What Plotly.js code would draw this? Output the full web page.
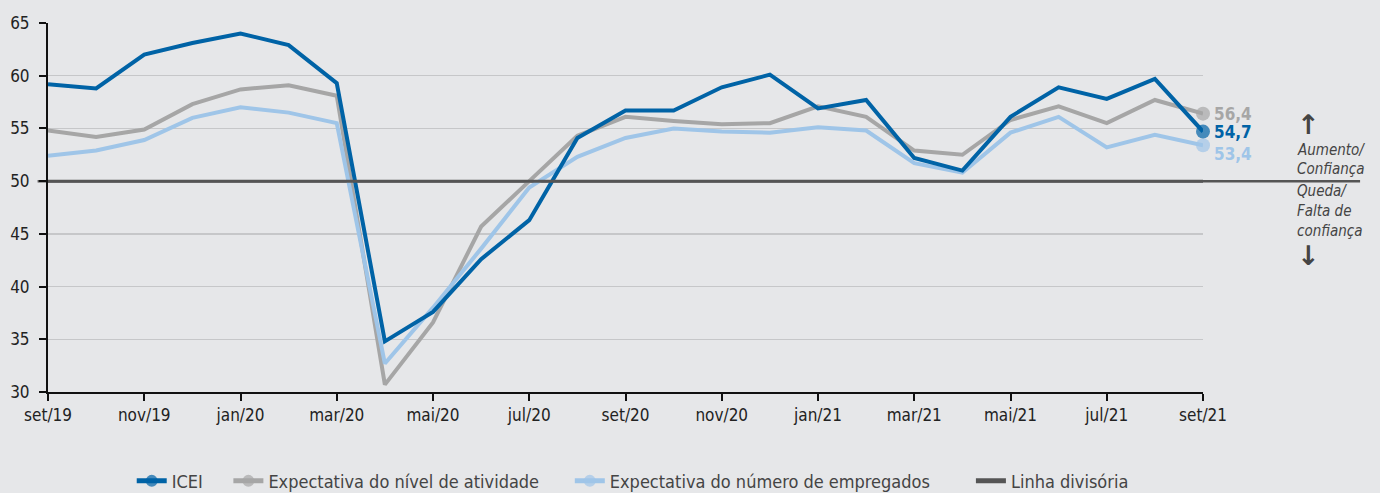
<!DOCTYPE html>
<html>
<head>
<meta charset="utf-8">
<script src="https://cdn.plot.ly/plotly-3.0.1.min.js"></script>
<style>
html,body{margin:0;padding:0;background:#e6e7e9;}
#chart{width:1380px;height:493px;}
</style>
</head>
<body>
<div id="chart"></div>
<script>
const months = ['set/19','out/19','nov/19','dez/19','jan/20','fev/20','mar/20','abr/20','mai/20','jun/20','jul/20','ago/20','set/20','out/20','nov/20','dez/20','jan/21','fev/21','mar/21','abr/21','mai/21','jun/21','jul/21','ago/21','set/21'];
const tickMonths = ['set/19','nov/19','jan/20','mar/20','mai/20','jul/20','set/20','nov/20','jan/21','mar/21','mai/21','jul/21','set/21'];
const icei = [59.2,58.8,62.0,63.1,64.0,62.9,59.3,34.8,37.6,42.6,46.3,54.1,56.7,56.7,58.9,60.1,56.9,57.7,52.2,51.0,56.1,58.9,57.8,59.7,54.7];
const nivelAtividade = [54.8,54.2,54.9,57.3,58.7,59.1,58.1,30.7,36.6,45.7,50.0,54.3,56.1,55.7,55.4,55.5,57.1,56.1,52.9,52.5,55.8,57.1,55.5,57.7,56.4];
const numEmpregados = [52.4,52.9,53.9,56.0,57.0,56.5,55.5,32.7,38.0,43.6,49.4,52.3,54.1,55.0,54.7,54.6,55.1,54.8,51.7,50.8,54.6,56.1,53.2,54.4,53.4];
const linhaDivisoria = 50;
const yTicks = [30,35,40,45,50,55,60,65];
const seriesNames = ['ICEI','Expectativa do nível de atividade','Expectativa do número de empregados','Linha divisória'];

const FONT = '"DejaVu Sans Condensed", "Liberation Sans Narrow", "Roboto", sans-serif';
const C_ICEI = '#0063a6', C_NIVEL = '#a6a6a6', C_EMP = '#9fc5e8', C_LINHA = '#555555';
const last = months.length - 1;
const endSizes = months.map((m, i) => i === last ? 14 : 0);
const fmt = v => v.toFixed(1).replace('.', ',');
const pad = (s, n) => s + '\u00a0'.repeat(n);

const traces = [
  {x: months, y: nivelAtividade, name: pad(seriesNames[1], 5), mode: 'lines+markers',
   line: {color: C_NIVEL, width: 4}, marker: {color: C_NIVEL, size: endSizes, line: {width: 0}}, legendrank: 2, cliponaxis: false},
  {x: months, y: numEmpregados, name: pad(seriesNames[2], 7), mode: 'lines+markers',
   line: {color: C_EMP, width: 4}, marker: {color: C_EMP, size: endSizes, line: {width: 0}}, legendrank: 3, cliponaxis: false},
  {x: months, y: icei, name: pad(seriesNames[0], 4), mode: 'lines+markers',
   line: {color: C_ICEI, width: 4}, marker: {color: C_ICEI, size: endSizes, line: {width: 0}}, legendrank: 1, cliponaxis: false},
  {x: [months[0], months[last]], y: [linhaDivisoria, linhaDivisoria], name: seriesNames[3], mode: 'lines',
   line: {color: C_LINHA, width: 3}, legendrank: 4, hoverinfo: 'skip'}
];

const endLabels = [
  {v: nivelAtividade[last], c: C_NIVEL, dy: 0},
  {v: icei[last], c: C_ICEI, dy: 0},
  {v: numEmpregados[last], c: C_EMP, dy: 9}
];

const annotations = endLabels.map(e => ({
  x: months[last], y: e.v, xref: 'x', yref: 'y', xanchor: 'left', yanchor: 'middle',
  xshift: 9, yshift: -e.dy, showarrow: false, text: '<b>' + fmt(e.v) + '</b>',
  font: {family: FONT, size: 17, color: e.c}
}));

const sideText = [
  {t: '<b>↑</b>', y: 0.724, s: 27, it: false},
  {t: 'Aumento/', y: 0.656, s: 15, it: true},
  {t: 'Confiança', y: 0.603, s: 15, it: true},
  {t: 'Queda/', y: 0.545, s: 15, it: true},
  {t: 'Falta de', y: 0.490, s: 15, it: true},
  {t: 'confiança', y: 0.437, s: 15, it: true},
  {t: '<b>↓</b>', y: 0.370, s: 27, it: false}
];
sideText.forEach(s => annotations.push({
  x: 1.0795, y: s.y, xref: 'paper', yref: 'paper', xanchor: 'left', yanchor: 'middle',
  showarrow: false, text: s.it ? '<i>' + s.t + '</i>' : s.t,
  font: {family: s.it ? FONT : '"DejaVu Sans", sans-serif', size: s.s, color: '#444444'}
}));

const layout = {
  width: 1380, height: 493,
  margin: {l: 48, r: 177, t: 23, b: 101},
  paper_bgcolor: '#e6e7e9', plot_bgcolor: '#e6e7e9',
  font: {family: FONT, size: 17, color: '#222222'},
  showlegend: true,
  legend: {orientation: 'h', xref: 'container', yref: 'container', x: 0.4585, xanchor: 'center', y: 0.024, yanchor: 'middle',
    font: {family: FONT, size: 18, color: '#444444'}, itemsizing: 'constant', bgcolor: 'rgba(0,0,0,0)'},
  xaxis: {
    type: 'category', categoryorder: 'array', categoryarray: months,
    range: [0, last], tickmode: 'array', tickvals: tickMonths, ticktext: tickMonths,
    showgrid: false, zeroline: false, showline: true, linecolor: '#111111', linewidth: 2,
    ticks: 'outside', ticklen: 7, tickwidth: 2, tickcolor: '#111111',
    tickfont: {family: FONT, size: 17, color: '#222222'}, fixedrange: true
  },
  yaxis: {
    range: [30, 65], tickmode: 'array', tickvals: yTicks,
    showgrid: true, gridcolor: '#c6c7c9', gridwidth: 1.5, zeroline: false,
    showline: true, linecolor: '#111111', linewidth: 2,
    ticks: 'outside', ticklen: 7, tickwidth: 2, tickcolor: '#111111',
    ticklabelstandoff: 6,
    tickfont: {family: FONT, size: 17, color: '#222222'}, fixedrange: true
  },
  shapes: [{
    type: 'line', xref: 'paper', yref: 'y', x0: -0.009, x1: 1.136, y0: linhaDivisoria, y1: linhaDivisoria,
    line: {color: C_LINHA, width: 2.5}, layer: 'between'
  }],
  annotations: annotations
};

Plotly.newPlot('chart', traces, layout, {displayModeBar: false, staticPlot: true});
</script>
</body>
</html>
